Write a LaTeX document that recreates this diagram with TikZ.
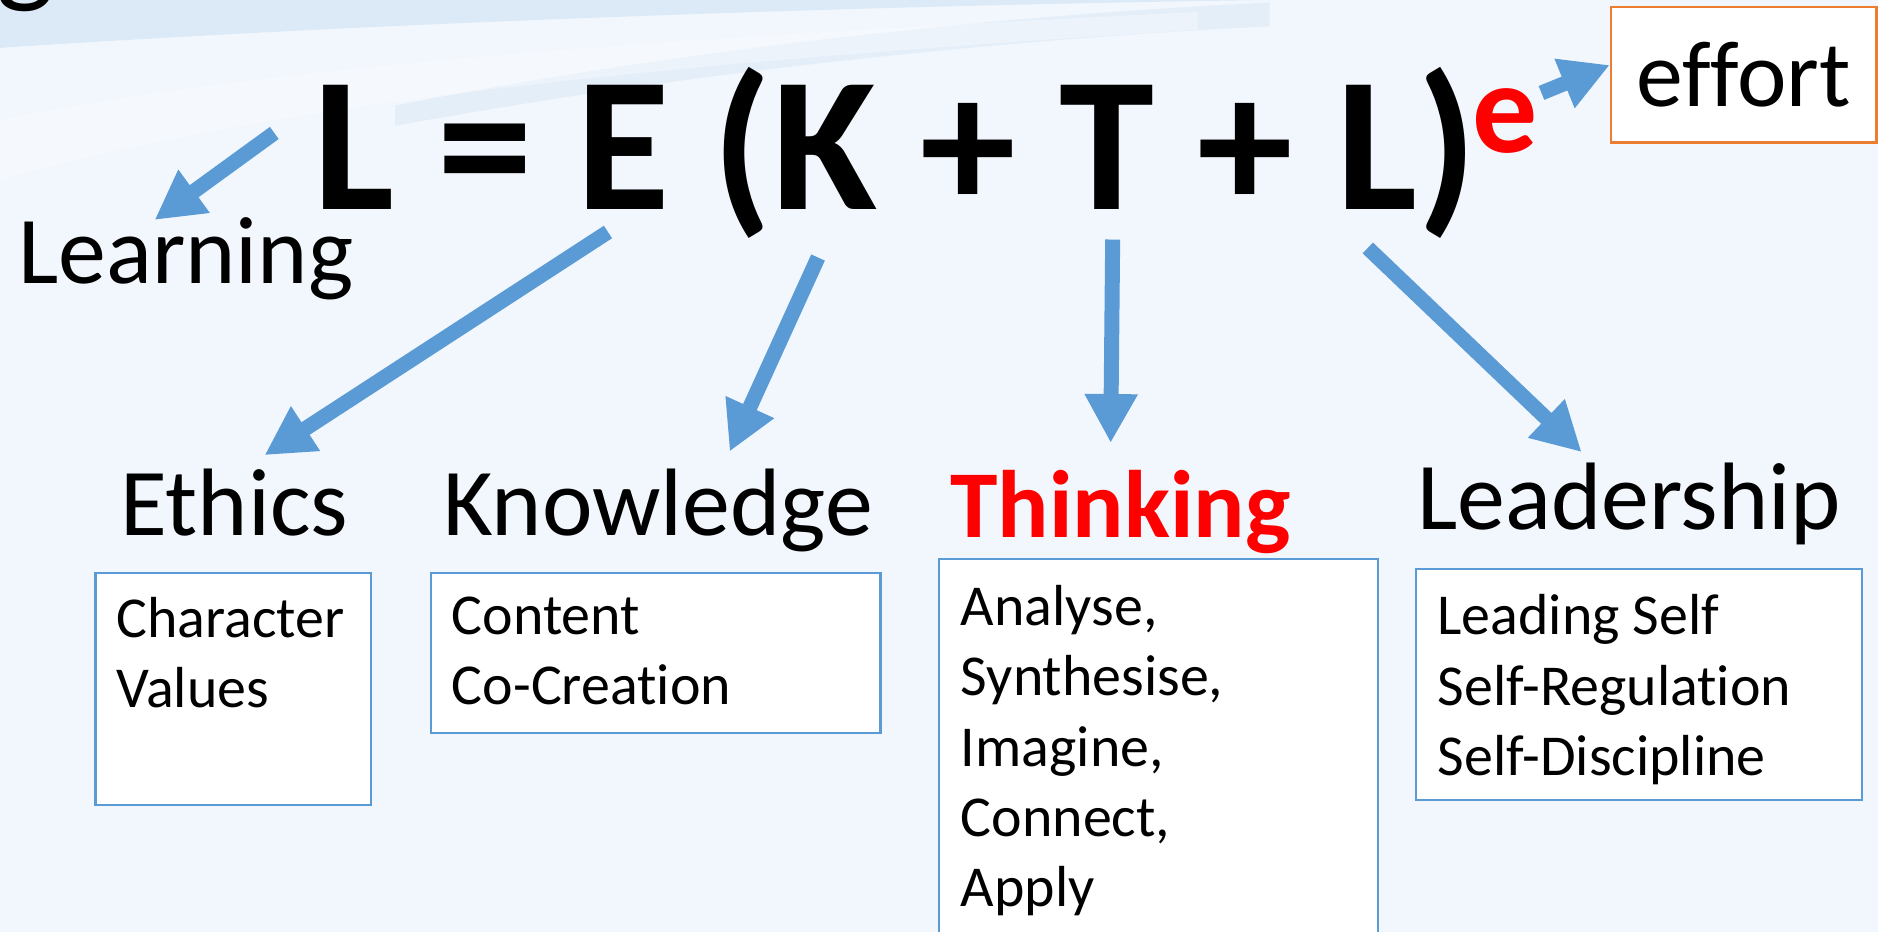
\documentclass[tikz,border=0pt]{standalone}
\usepackage{fontspec}
\setmainfont{Carlito}[Ligatures=CommonOff]
\usepackage{tikz}
\usetikzlibrary{arrows.meta}

\definecolor{SlideBg}{HTML}{F2F7FD}
\definecolor{Swoosh}{HTML}{D3E4F5}
\definecolor{ArrowBlue}{HTML}{5B9BD5}
\definecolor{EffortOrange}{HTML}{ED7D31}
\definecolor{ThinkRed}{HTML}{FF0000}

\tikzset{
	arr/.style={ArrowBlue, line width=7.5pt, -{Triangle[length=24.5pt, width=25pt]}},
	head/.style={anchor=base west, inner sep=0pt, font=\fontsize{48}{56}\selectfont},
	listbox/.style={draw=ArrowBlue, line width=1.35pt, fill=white},
	listtext/.style={anchor=north west, inner sep=0pt, align=left, font=\fontsize{29}{35.3}\selectfont},
}

\begin{document}
\begin{tikzpicture}[x=0.6pt, y=-0.6pt]
	\clip (0, 0) rectangle (1568, 778);
	\fill[SlideBg] (0, 0) rectangle (1568, 778);
	% soft bands along the top
	\fill[Swoosh, opacity=0.7] (0, 40) .. controls (300, 20) and (700, 5) .. (1060, 0) -- (0, 0) -- cycle;
	\fill[Swoosh, opacity=0.45] (330, 105) .. controls (550, 65) and (800, 35) .. (1060, 22) -- (1060, 2) .. controls (800, 15) and (550, 45) .. (330, 88) -- cycle;
	\fill[white, opacity=0.3] (0, 150) .. controls (250, 80) and (600, 50) .. (1000, 25) -- (1000, 10) .. controls (600, 30) and (250, 50) .. (0, 100) -- cycle;
	\node[anchor=base west, inner sep=0pt, font=\fontsize{62}{66}\selectfont] (titleg) at (-3, -8) {g};

	% the formula
	\node[anchor=base west, inner sep=0pt, font=\fontsize{96}{106}\selectfont\bfseries] (formula) at (261, 174.5) {L = E (K + T + L)};
	\node[anchor=base west, inner sep=0pt, text=ThinkRed, font=\fontsize{65}{70}\selectfont\bfseries] (expo) at (1229, 127) {e};
	\node[draw=EffortOrange, line width=1.35pt, fill=white, minimum width=133pt, minimum height=68pt, inner sep=0pt, font=\fontsize{47}{56}\selectfont] (effort) at (1456, 62.6) {effort};

	\node[head] (learning) at (15, 237) {Learning};
	\node[head] (ethics) at (100, 446.7) {Ethics};
	\node[head] (knowledge) at (370, 446.7) {Knowledge};
	\node[head, text=ThinkRed, font=\fontsize{48}{56}\selectfont\bfseries] (thinking) at (793, 449) {Thinking};
	\node[head] (leadership) at (1183, 442.5) {Leadership};

	% start points just below the letters
	\coordinate (fromL) at (229, 111);
	\coordinate (fromE) at (507.6, 193.7);
	\coordinate (fromK) at (683, 215);
	\coordinate (fromT) at (929, 200);
	\coordinate (fromLd) at (1142, 207);
	\coordinate (fromExp) at (1287, 77.6);

	\draw[arr] (fromL) -- ([xshift=-15.7pt, yshift=32pt]learning.base);
	\draw[arr] (fromE) -- ([xshift=15.2pt, yshift=40pt]ethics.base);
	\draw[arr] (fromK) -- ([xshift=35.8pt, yshift=41.8pt]knowledge.base);
	\draw[arr] (fromT) -- ([xshift=-4.8pt, yshift=47.5pt]thinking.base);
	\draw[arr] (fromLd) -- ([xshift=-23.8pt, yshift=39pt]leadership.base);
	\draw[arr] (fromExp) -- ([yshift=5pt]effort.west);

	% boxes under the headings
	\draw[listbox] (80, 478.4) rectangle (309.8, 672);
	\draw[listbox] (359.9, 478.4) rectangle (735, 612);
	\draw[listbox] (784, 466.7) rectangle (1150.6, 790);
	\draw[listbox] (1182.3, 475) rectangle (1554.7, 668);
	\node[listtext] (ethicslist) at (97, 498) {Character\\Values};
	\node[listtext] (knowlist) at (377, 498) {Content\\Co-Creation};
	\node[listtext] (thinklist) at (802, 488) {Analyse,\\Synthesise,\\Imagine,\\Connect,\\Apply};
	\node[listtext] (leadlist) at (1200, 496) {Leading Self\\Self-Regulation\\Self-Discipline};
\end{tikzpicture}
\end{document}
